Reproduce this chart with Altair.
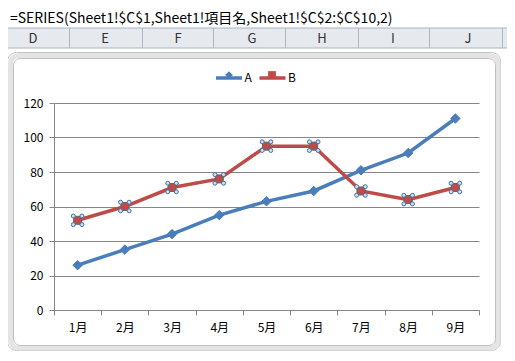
import altair as alt
import pandas as pd

# ---- data ----
months = ["1月", "2月", "3月", "4月", "5月", "6月", "7月", "8月", "9月"]
series_names = ["A", "B"]
a_vals = [26, 35, 44, 55, 63, 69, 81, 91, 111]
b_vals = [52, 60, 71, 76, 95, 95, 69, 64, 71]
y_ticks = [0, 20, 40, 60, 80, 100, 120]
sheet_columns = ["D", "E", "F", "G", "H", "I", "J"]
formula = "=SERIES(Sheet1!$C$1,Sheet1!項目名,Sheet1!$C$2:$C$10,2)"

rows = []
for m, a, b in zip(months, a_vals, b_vals):
    rows.append({"month": m, "series": "A", "value": a})
    rows.append({"month": m, "series": "B", "value": b})
df = pd.DataFrame(rows)

# ---- styles ----
FONT = "Noto Sans CJK JP"
BLUE = "#4A7EBB"
RED = "#BE4B48"
COLORS = [BLUE, RED]
GRID = "#868686"

x_enc = alt.X(
    "month:N", sort=months, bandPosition=0.5,
    scale=alt.Scale(type="band", paddingInner=0, paddingOuter=0),
    axis=alt.Axis(title=None, labelAngle=0, tickBand="extent", ticks=True, tickSize=5,
                  tickColor=GRID, domainColor=GRID, labelPadding=7, labelFontSize=12,
                  labelColor="black", labelFont=FONT, grid=False),
)
y_enc = alt.Y(
    "value:Q", scale=alt.Scale(domain=[0, 120], nice=False),
    axis=alt.Axis(title=None, values=y_ticks, grid=True, gridColor=GRID, tickSize=5,
                  tickColor=GRID, domainColor=GRID, labelPadding=6, labelFontSize=12,
                  labelColor="black", labelFont=FONT),
)
color_scale = alt.Scale(domain=series_names, range=COLORS)
color_enc = alt.Color("series:N", scale=color_scale, legend=None)

base = alt.Chart(df)

# legend 1: line keys with labels
line_legend = alt.Legend(orient="none", legendX=160, legendY=-40, direction="horizontal", title=None,
                         symbolType="stroke", symbolSize=676, symbolStrokeWidth=3.5,
                         labelFontSize=12, labelFont=FONT, labelColor="black",
                         labelOffset=0.5, columnPadding=0.5)
lines = base.mark_line(strokeWidth=3.5).encode(
    x=x_enc, y=y_enc, color=alt.Color("series:N", scale=color_scale, legend=line_legend))

# legend 2: marker keys drawn on top of the line keys (no labels)
marker_keys = [s + "_" for s in series_names]
marker_legend = alt.Legend(orient="none", legendX=169, legendY=-34, direction="horizontal", title=None,
                           symbolSize=60, symbolStrokeWidth=0, labelFontSize=12, labelFont=FONT,
                           labelExpr="''", labelOffset=4, columnPadding=27, zindex=2)
legend_layer = base.transform_calculate(key="datum.series + '_'").mark_point(
    filled=True, size=1, opacity=1).encode(
    x=x_enc, y=y_enc,
    fill=alt.Fill("key:N", scale=alt.Scale(domain=marker_keys, range=COLORS), legend=marker_legend),
    shape=alt.Shape("key:N", scale=alt.Scale(domain=marker_keys, range=["diamond", "square"]),
                    legend=marker_legend),
)

pts_a = base.transform_filter(alt.datum.series == "A").mark_point(
    shape="diamond", filled=True, size=90, opacity=1, stroke=BLUE, strokeWidth=1
).encode(x=x_enc, y=y_enc, color=color_enc)
pts_b = base.transform_filter(alt.datum.series == "B").mark_point(
    shape="square", filled=True, size=64, opacity=1, stroke="#5A6878", strokeWidth=1
).encode(x=x_enc, y=y_enc, color=color_enc)

handles = [
    base.transform_filter(alt.datum.series == "B").mark_point(
        shape="circle", filled=True, size=16, opacity=1, fill="#CFE0F1", stroke="#41719C",
        strokeWidth=1, xOffset=dx, yOffset=dy
    ).encode(x=x_enc, y=y_enc)
    for dx in (-4.3, 4.3) for dy in (-4.3, 4.3)
]

one = alt.Data(values=[{"k": 1}])

def box(x1, x2, y1, y2, **kw):
    return alt.Chart(one).mark_rect(**kw).encode(
        x=alt.value(x1), x2=alt.value(x2), y=alt.value(y1), y2=alt.value(y2))

def vline(x, y1, y2, color, w=1):
    return alt.Chart(one).mark_rule(color=color, strokeWidth=w).encode(
        x=alt.value(x), y=alt.value(y1), y2=alt.value(y2))

deco = [
    box(-46.5, 446.5, -50.5, 247.5, filled=False, stroke="#C4C4C4", strokeWidth=1, cornerRadius=9),
    box(-43.5, 444, -47.5, 245, filled=False, stroke="#E4E4E4", strokeWidth=5, cornerRadius=8),
    box(-40.5, 441.5, -44.5, 242.5, filled=False, stroke="#BEBEBE", strokeWidth=1, cornerRadius=7),
    box(-60, 470, -75, -55, fill="#E6E9EE", stroke="#A9B4C2", strokeWidth=1),
]
deco += [vline(x, -75, -55, "#AEB6C1") for x in [15.5, 88.5, 159.5, 231.5, 304.5, 375.5, 448.5]]
letter_x = [-21, 51, 124, 198, 268, 339, 414]
deco += [
    alt.Chart(one).mark_text(fontSize=13, font=FONT, color="#333333", align="center", baseline="middle").encode(
        x=alt.value(lx), y=alt.value(-64), text=alt.value(c))
    for lx, c in zip(letter_x, sheet_columns)
]
deco.append(
    alt.Chart(one).mark_text(fontSize=14, font=FONT, color="black", align="left", baseline="middle").encode(
        x=alt.value(-44), y=alt.value(-84.5), text=alt.value(formula))
)

chart = alt.layer(*deco, lines, legend_layer, pts_a, pts_b, *handles).properties(
    width=425, height=207,
    padding={"left": 46, "top": 95, "right": 28, "bottom": 43},
    autosize=alt.AutoSizeParams(type="none"),
    background="white",
).configure_view(stroke="transparent")

chart.save("out.html", embed_options={"renderer": "svg", "actions": False})
